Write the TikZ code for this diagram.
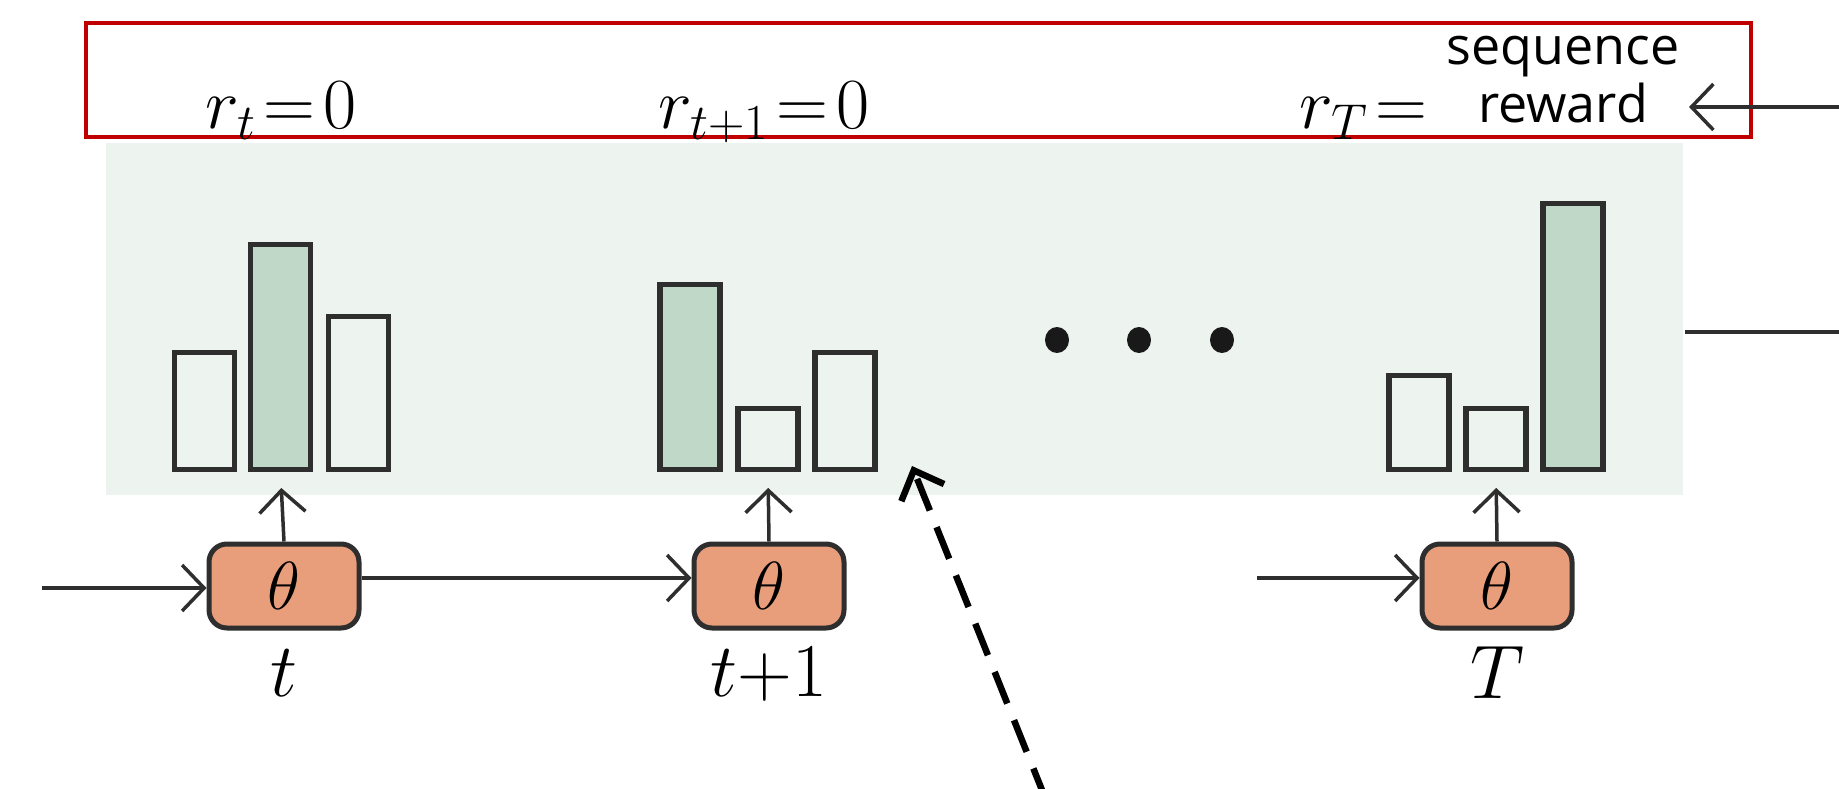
\RequirePackage{fix-cm}
\documentclass[tikz,border=0pt]{standalone}
\usepackage{fontspec}
\newfontfamily\labelsans{Open Sans}
\usetikzlibrary{arrows.meta}
\definecolor{panelbg}{HTML}{EDF3EF}
\definecolor{barfill}{HTML}{C0D8C8}
\definecolor{cellfill}{HTML}{E89D7B}
\definecolor{inkgrey}{HTML}{2E2E2E}
\definecolor{framered}{HTML}{C00000}
\tikzset{
  bar/.style={draw=inkgrey, line width=5.5pt, fill=panelbg, minimum width=60pt, inner sep=0pt, anchor=south},
  hibar/.style={bar, fill=barfill},
  cell/.style={draw=inkgrey, line width=5pt, fill=cellfill, rounded corners=18pt,
    minimum width=150pt, minimum height=84pt, inner sep=0pt,
    font=\fontsize{68}{74}\selectfont},
  steplabel/.style={anchor=base, inner sep=0pt, font=\fontsize{76}{82}\selectfont},
  rewardlabel/.style={anchor=base, inner sep=0pt, font=\fontsize{72}{78}\selectfont},
  flow/.style={draw=inkgrey, line width=3.5pt, -{Straight Barb[length=22pt, width=46pt]}},
  hint/.style={draw=black, line width=6.5pt, dash pattern=on 34pt off 18pt,
    -{Straight Barb[length=24pt, width=46pt]}},
}
\begin{document}
\begin{tikzpicture}[x=1pt, y=-1pt]
\useasboundingbox (0,0) rectangle (1839,789);

% shaded panel with the output distributions
\fill[panelbg] (106,143) rectangle (1683,495);
\coordinate (panelout) at (1685,332);
\coordinate (panelend) at (1839,332);
\draw[inkgrey, line width=3.5pt] (panelout) -- (panelend);

% distributions at step t
\node[bar,   minimum height=117pt] (a1) at (204.5,472) {};
\node[hibar, minimum height=225pt] (a2) at (280.5,472) {};
\node[bar,   minimum height=153pt] (a3) at (358.5,472) {};
% distributions at step t+1
\node[hibar, minimum height=185pt] (b1bar) at (690,472) {};
\node[bar,   minimum height=61pt]  (b2bar) at (768,472) {};
\node[bar,   minimum height=117pt] (b3bar) at (845,472) {};
% distributions at step T
\node[bar,   minimum height=94pt]  (c1) at (1419,472) {};
\node[bar,   minimum height=61pt]  (c2) at (1496,472) {};
\node[hibar, minimum height=266pt] (c3) at (1573,472) {};

% ellipsis
\fill[black!90] (1057,340) ellipse [x radius=12pt, y radius=13pt];
\fill[black!90] (1139,340) ellipse [x radius=12pt, y radius=13pt];
\fill[black!90] (1222,340) ellipse [x radius=12pt, y radius=13pt];

% policy cells
\node[cell] (s1) at (284,586) {$\theta$};
\node[cell] (s2) at (769,586) {$\theta$};
\node[cell] (s3) at (1497,586) {$\theta$};

\node[steplabel] (l1) at (284,696) {$t$};
\node[steplabel] (l2) at (769,696) {$t{+}1$};
\node[steplabel] (l3) at (1497,698) {$T$};

% recurrent connections
\coordinate (inleft) at (42,588);
\coordinate (inright) at (1257,578);
\draw[flow] (inleft) -- (s1.west |- inleft);
\draw[flow] ([yshift=8pt]s1.east) -- ([yshift=8pt]s2.west);
\draw[flow] (inright) -- (s3.west |- inright);

% cell outputs
\draw[flow, shorten >=16pt] (s1.north) -- (a2.south);
\draw[flow, shorten >=16pt] (s2.north) -- (b2bar.south);
\draw[flow, shorten >=16pt] (s3.north) -- (c2.south);

% reward row
\node[draw=framered, line width=3.5pt, minimum width=1665pt, minimum height=114pt, inner sep=0pt] (frame) at (918.5,80) {};
\node[rewardlabel] (r1) at (281,129) {$r_t\!=\!0$};
\node[rewardlabel] (r2) at (764,129) {$r_{t+1}\!=\!0$};
\node[rewardlabel, anchor=base east] (r3) at (1428,129) {$r_T\!=$};
\node[align=center, inner sep=0pt, font=\labelsans\fontsize{52}{58}\selectfont] (seq) at (1563,80) {sequence\\reward};

\coordinate (fbstart) at (1839,107);
\coordinate (fbend) at (1689,107);
\draw[flow] (fbstart) -- (fbend);

% dashed pointer
\coordinate (hintstart) at (1046,800);
\coordinate (hinttip) at (912,466);
\draw[hint] (hintstart) -- (hinttip);
\end{tikzpicture}
\end{document}
